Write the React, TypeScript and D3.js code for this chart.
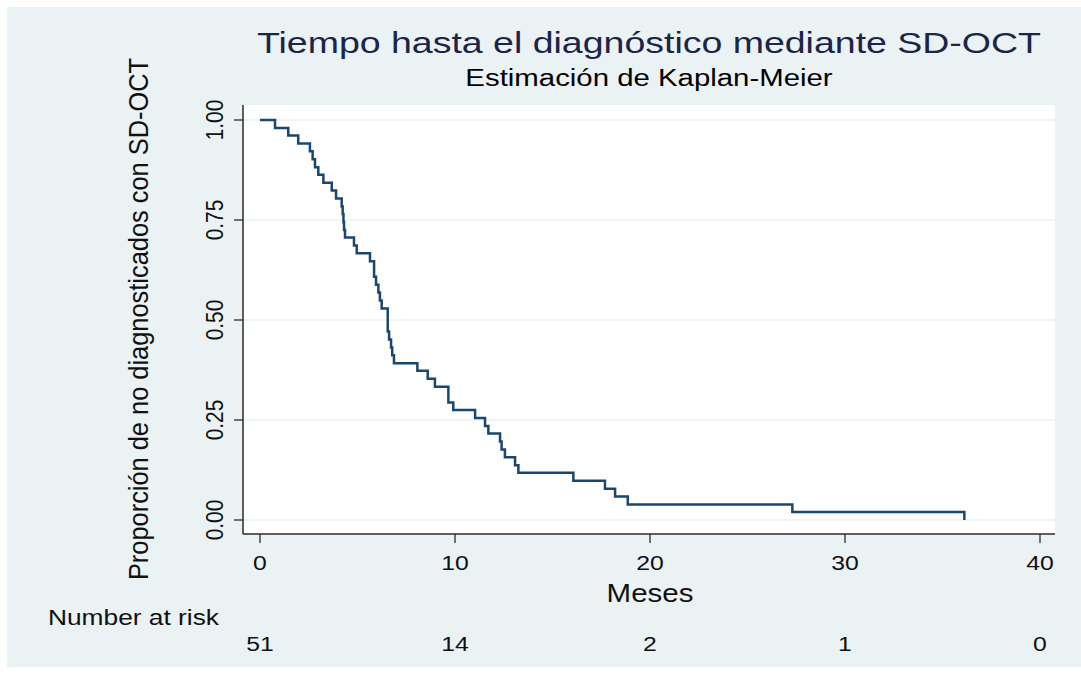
import React from "react";
import * as d3 from "d3";

// Kaplan-Meier step data
const stepTimes = [
  0, 0.77, 1.45, 1.96, 2.56, 2.7, 2.82, 2.99, 3.25, 3.68, 3.9, 4.19, 4.24, 4.28, 4.31, 4.36,
  4.82, 4.96, 5.64, 5.85, 5.95, 6.07, 6.15, 6.24, 6.55, 6.62, 6.72, 6.78, 6.87, 8.07, 8.6,
  8.97, 9.66, 9.91, 11.03, 11.54, 11.71, 12.31, 12.39, 12.56, 13.08, 13.25, 16.07, 17.69,
  18.21, 18.86, 27.3, 36.12,
];
const survival = [
  1.0, 0.98, 0.961, 0.941, 0.922, 0.902, 0.882, 0.863, 0.843, 0.824, 0.804, 0.784, 0.765,
  0.745, 0.725, 0.706, 0.686, 0.667, 0.647, 0.608, 0.588, 0.569, 0.549, 0.529, 0.471, 0.451,
  0.431, 0.412, 0.392, 0.373, 0.353, 0.333, 0.294, 0.275, 0.255, 0.235, 0.216, 0.196, 0.176,
  0.157, 0.137, 0.118, 0.098, 0.078, 0.059, 0.039, 0.02, 0.0,
];
const xTicks = [0, 10, 20, 30, 40];
const yTicks = [0, 0.25, 0.5, 0.75, 1];
const yTickLabels = ["0.00", "0.25", "0.50", "0.75", "1.00"];
const riskTimes = [0, 10, 20, 30, 40];
const riskCounts = [51, 14, 2, 1, 0];

const title = "Tiempo hasta el diagnóstico mediante SD-OCT";
const subtitle = "Estimación de Kaplan-Meier";
const xTitle = "Meses";
const yTitle = "Proporción de no diagnosticados con SD-OCT";
const riskTitle = "Number at risk";

const W = 1081;
const H = 675;
const FONT = "'Liberation Sans', Arial, Helvetica, sans-serif";
const SX = 1.18;

export default function App() {
  const plot = { left: 243, right: 1055, top: 105, bottom: 534 };
  const x = d3.scaleLinear().domain([0, 40]).range([260, 1040]);
  const y = d3.scaleLinear().domain([0, 1]).range([520, 120]);

  const pts: [number, number][] = stepTimes.map((t, i) => [t, survival[i]]);
  const line = d3
    .line<[number, number]>()
    .x((d) => x(d[0]))
    .y((d) => y(d[1]))
    .curve(d3.curveStepAfter);

  const axisColor = "#2b2b2b";
  const textColor = "#111";

  return (
    <svg
      width={W}
      height={H}
      style={{ position: "absolute", left: 0, top: 0 }}
      fontFamily={FONT}
    >
      <rect x={0} y={0} width={W} height={H} fill="#ffffff" />
      <rect x={7} y={7} width={W - 7} height={660} fill="#eaf2f3" />
      <rect
        x={plot.left}
        y={plot.top}
        width={plot.right - plot.left}
        height={plot.bottom - plot.top}
        fill="#ffffff"
      />
      {/* grid */}
      {yTicks.map((v) => (
        <line
          key={"g" + v}
          x1={plot.left}
          x2={plot.right}
          y1={y(v)}
          y2={y(v)}
          stroke="#eaf2f3"
          strokeWidth={1.6}
        />
      ))}
      {/* KM curve */}
      <path d={line(pts) || ""} fill="none" stroke="#1a476f" strokeWidth={2.5} />

      {/* axes */}
      <line x1={plot.left} x2={plot.left} y1={plot.top} y2={plot.bottom} stroke={axisColor} strokeWidth={1.5} />
      <line x1={plot.left} x2={plot.right} y1={plot.bottom} y2={plot.bottom} stroke={axisColor} strokeWidth={1.5} />
      {yTicks.map((v, i) => (
        <g key={"yt" + v}>
          <line x1={plot.left - 9} x2={plot.left} y1={y(v)} y2={y(v)} stroke={axisColor} strokeWidth={1.3} />
          <text
            transform={`translate(223,${y(v)}) scale(${SX},1) rotate(-90)`}
            textAnchor="middle"
            fontSize={20.8}
            fill={textColor}
          >
            {yTickLabels[i]}
          </text>
        </g>
      ))}
      {xTicks.map((v) => (
        <g key={"xt" + v}>
          <line x1={x(v)} x2={x(v)} y1={plot.bottom} y2={plot.bottom + 9} stroke={axisColor} strokeWidth={1.3} />
          <text
            transform={`translate(${x(v)},570) scale(${SX},1)`}
            textAnchor="middle"
            fontSize={21}
            fill={textColor}
          >
            {v}
          </text>
        </g>
      ))}

      {/* titles */}
      <text
        transform={`translate(649,53) scale(1.25,1)`}
        textAnchor="middle"
        fontSize={30}
        fill="#1c2548"
      >
        {title}
      </text>
      <text
        transform={`translate(649,86) scale(1.25,1)`}
        textAnchor="middle"
        fontSize={23.5}
        fill="#000"
      >
        {subtitle}
      </text>
      <text
        transform={`translate(650,602) scale(${SX},1)`}
        textAnchor="middle"
        fontSize={25}
        fill={textColor}
      >
        {xTitle}
      </text>
      <text
        transform={`translate(148,319) scale(1.1,1) rotate(-90)`}
        textAnchor="middle"
        fontSize={25.4}
        fill={textColor}
      >
        {yTitle}
      </text>

      {/* number at risk */}
      <text
        transform={`translate(48,625) scale(${SX},1)`}
        textAnchor="start"
        fontSize={22.3}
        fill={textColor}
      >
        {riskTitle}
      </text>
      {riskTimes.map((t, i) => (
        <text
          key={"r" + t}
          transform={`translate(${x(t)},651) scale(${SX},1)`}
          textAnchor="middle"
          fontSize={21}
          fill={textColor}
        >
          {riskCounts[i]}
        </text>
      ))}
    </svg>
  );
}
